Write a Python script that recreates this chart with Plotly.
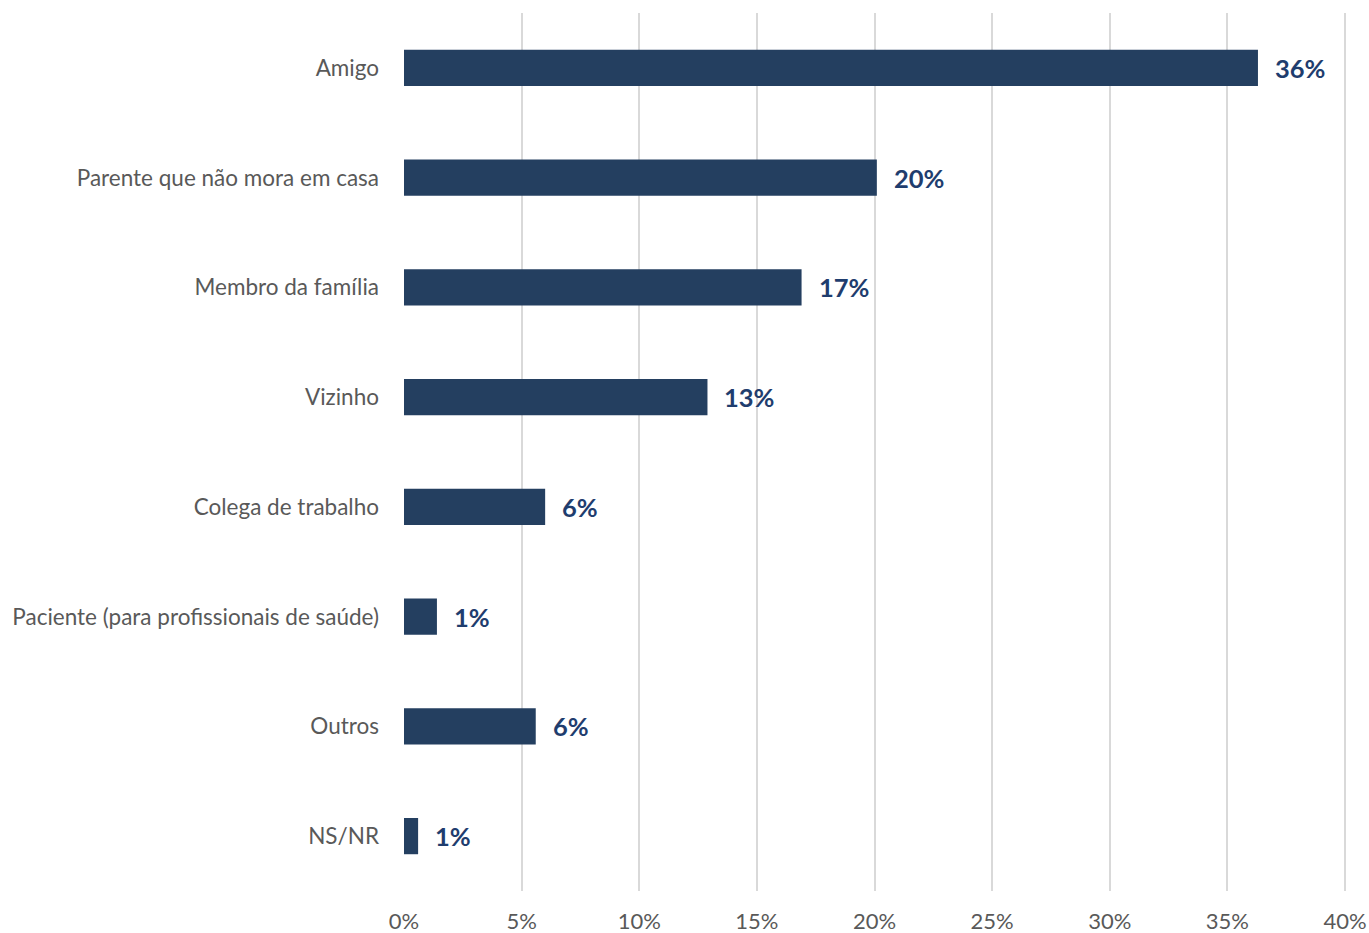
import plotly.graph_objects as go

categories = ["Amigo", "Parente que não mora em casa", "Membro da família", "Vizinho",
              "Colega de trabalho", "Paciente (para profissionais de saúde)", "Outros", "NS/NR"]
values = [36.3, 20.1, 16.9, 12.9, 6.0, 1.4, 5.6, 0.6]
labels = ["36%", "20%", "17%", "13%", "6%", "1%", "6%", "1%"]
tick_vals = [0, 5, 10, 15, 20, 25, 30, 35, 40]
tick_text = ["0%", "5%", "10%", "15%", "20%", "25%", "30%", "35%", "40%"]

FONT = "Lato, Carlito, 'Open Sans', sans-serif"

fig = go.Figure(go.Bar(
    x=values, y=categories, orientation="h",
    marker=dict(color="#243f60", line=dict(width=0)),
    width=0.33,
    hoverinfo="skip",
))

for c, v, t in zip(categories, values, labels):
    fig.add_annotation(x=v, y=c, text=f"<b>{t}</b>", showarrow=False,
                       xanchor="left", xshift=15,
                       font=dict(family=FONT, size=25.5, color="#1f3d6e"))

fig.update_layout(
    width=1369, height=933, autosize=False,
    margin=dict(l=403, r=22, t=13, b=42, pad=0, autoexpand=False),
    paper_bgcolor="white", plot_bgcolor="white",
    showlegend=False,
    font=dict(family=FONT, color="#595959", size=22.5),
    xaxis=dict(range=[-0.0425, 40.085], tickvals=tick_vals, ticktext=tick_text,
               showgrid=True, gridcolor="#d9d9d9", gridwidth=2, automargin=False,
               ticklabeloverflow="allow",
               zeroline=False, showline=False, ticks="", ticklabelstandoff=15,
               tickfont=dict(size=22, color="#595959", family=FONT)),
    yaxis=dict(categoryorder="array", categoryarray=categories[::-1],
               autorange=True, showgrid=False, zeroline=False, showline=False,
               automargin=False, ticks="", ticklabelstandoff=23,
               tickfont=dict(size=22.5, color="#595959", family=FONT)),
)

fig.write_html("out.html",
               config={"responsive": False, "displayModeBar": False},
               post_script="document.body.style.margin='0';document.body.style.overflow='hidden';")
